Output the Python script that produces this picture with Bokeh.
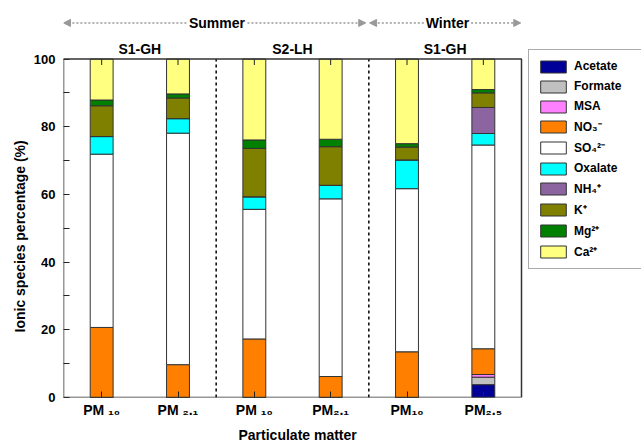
from bokeh.plotting import figure
from bokeh.models import (Range1d, FixedTicker, Arrow, NormalHead, BoxAnnotation,
                          Legend, LegendItem, ColumnDataSource, Title)
from bokeh.core.properties import value
from bokeh.embed import file_html
from bokeh.resources import INLINE

# ---------------- data ----------------
positions = [1, 2, 3, 4, 5, 6]
tick_labels = ["PM \u2081\u2080", "PM \u2082.\u2081", "PM \u2081\u2080",
               "PM\u2082.\u2081", "PM\u2081\u2080", "PM\u2082.\u2085"]
sites = ["S1-GH", "S2-LH", "S1-GH"]
site_pos = [1.5, 3.5, 5.5]
seasons = ["Summer", "Winter"]
season_center = [2.51, 5.53]
season_extent = [(0.5, 4.46), (4.51, 6.49)]
season_divider = [2.5, 4.5]
y_ticks = [0, 20, 40, 60, 80, 100]
y_minor = [10, 30, 50, 70, 90]
x_title = "Particulate matter"
y_title = "Ionic species percentage (%)"

species = ["Acetate", "Formate", "MSA", "NO3", "SO4", "Oxalate", "NH4", "K", "Mg", "Ca"]
legend_labels = ["Acetate", "Formate", "MSA", "NO\u2083\u207b", "SO\u2084\u00b2\u207b",
                 "Oxalate", "NH\u2084\u207a", "K\u207a", "Mg\u00b2\u207a", "Ca\u00b2\u207a"]
acetate = [0, 0, 0, 0, 0, 3.8]
formate = [0, 0, 0, 0, 0, 2.2]
msa = [0, 0, 0, 0, 0, 0.8]
no3 = [20.7, 9.7, 17.3, 6.2, 13.5, 7.6]
so4 = [51.2, 68.4, 38.3, 52.5, 48.2, 60.2]
oxalate = [5.2, 4.3, 3.7, 4.0, 8.5, 3.4]
nh4 = [0, 0, 0, 0, 0, 7.7]
k = [9.1, 6.1, 14.3, 11.4, 3.8, 4.3]
mg = [1.7, 1.2, 2.5, 2.2, 1.0, 1.0]
ca = [12.1, 10.3, 23.9, 23.7, 25.0, 9.0]

colors = ["#000099", "#C0C0C0", "#FF80FF", "#FF8000", "#FFFFFF",
          "#00FFFF", "#8C64A0", "#808000", "#008000", "#FFFF80"]

FONT = "Liberation Sans"
W, H = 641, 446
LEFT, BOTTOM = 63, 46
PLOT_TOP_PX = 59          # pixel row of the 100 % line
PLOT_RIGHT_PX = 521       # pixel column of the right edge of the chart box

# The frame also covers the header and the legend area; the ranges are extended so
# that the chart box (0.5..6.5 x 0..100) sits where it should.
frame_h = H - BOTTOM
ppu_y = (frame_h - PLOT_TOP_PX) / 100.0
ppu_x = (PLOT_RIGHT_PX - LEFT) / 6.0
y_end = frame_h / ppu_y
x_end = 0.5 + (W - LEFT) / ppu_x

src = ColumnDataSource(dict(x=positions, Acetate=acetate, Formate=formate, MSA=msa,
                            NO3=no3, SO4=so4, Oxalate=oxalate, NH4=nh4, K=k, Mg=mg, Ca=ca))

p = figure(width=W, height=H, output_backend="svg", toolbar_location=None,
           x_range=Range1d(0.5, x_end), y_range=Range1d(0, y_end),
           min_border_left=LEFT, min_border_right=0, min_border_top=0, min_border_bottom=BOTTOM)
p.xgrid.visible = False
p.ygrid.visible = False
p.outline_line_color = None

renderers = p.vbar_stack(species, x="x", width=0.3, source=src, color=colors,
                         line_color="#333333", line_width=1)

# chart box
p.add_layout(BoxAnnotation(left=0.5, right=6.5, bottom=0, top=100, fill_alpha=0,
                           line_color="#333333", line_alpha=1, line_width=1.5))

# season dividers (within the chart box only)
p.segment(x0=season_divider, y0=[0] * len(season_divider), x1=season_divider,
          y1=[100] * len(season_divider), line_color="black", line_dash="3 3", line_width=1.5)

# mirror ticks on the top edge of the chart box
tick_len = 6 / ppu_y
p.segment(x0=positions, y0=[100] * len(positions), x1=positions,
          y1=[100 - tick_len] * len(positions), line_color="#222222", line_width=1)

# header: site and season labels
site_y = (frame_h - 48.5) / ppu_y
season_y = (frame_h - 22.6) / ppu_y
p.text(x=site_pos, y=[site_y] * len(site_pos), text=sites, text_align="center",
       text_baseline="middle", text_font=value(FONT), text_font_style="bold",
       text_font_size="14px", text_color="black")
p.text(x=season_center, y=[season_y] * len(seasons), text=seasons, text_align="center",
       text_baseline="middle", text_font=value(FONT), text_font_style="bold",
       text_font_size="14px", text_color="black")
season_gap = [0.40, 0.31]
for c, (a, b), g in zip(season_center, season_extent, season_gap):
    for xs, xe in [(c - g, a), (c + g, b)]:
        p.add_layout(Arrow(x_start=xs, y_start=season_y, x_end=xe, y_end=season_y,
                           line_color="#999999", line_dash="2 2", line_width=1.5,
                           end=NormalHead(size=7, fill_color="#999999", line_color="#999999")))

# x axis
xax = p.xaxis[0]
xax.ticker = FixedTicker(ticks=positions)
xax.major_label_overrides = {pos: lab for pos, lab in zip(positions, tick_labels)}
xax.major_label_text_font = FONT
xax.major_label_text_font_style = "bold"
xax.major_label_text_font_size = "14px"
xax.major_label_text_color = "black"
xax.major_label_standoff = 4
xax.major_tick_in = 6
xax.major_tick_out = 0
xax.major_tick_line_color = "#222222"
xax.minor_tick_line_color = None
xax.axis_line_color = None

# y axis
yax = p.yaxis[0]
yax.ticker = FixedTicker(ticks=y_ticks, minor_ticks=y_minor)
yax.major_label_text_font = FONT
yax.major_label_text_font_style = "bold"
yax.major_label_text_font_size = "13px"
yax.major_label_text_color = "black"
yax.major_label_standoff = 8
yax.major_tick_in = 6
yax.major_tick_out = 0
yax.minor_tick_in = 6
yax.minor_tick_out = 0
yax.major_tick_line_color = "#222222"
yax.minor_tick_line_color = "#222222"
yax.axis_line_color = None

# axis titles, placed under / beside the chart box rather than the extended frame
p.add_layout(Title(text=x_title, align="left", offset=238 - LEFT,
                   standoff=8, text_font=FONT, text_font_style="bold",
                   text_font_size="14px", text_color="black"), "below")
p.add_layout(Title(text=y_title, align="left", offset=frame_h - 335,
                   standoff=6, text_font=FONT, text_font_style="bold",
                   text_font_size="14px", text_color="black"), "left")

# legend (inside the extended frame, right of the chart box)
legend = Legend(items=[LegendItem(label=lab, renderers=[r]) for lab, r in zip(legend_labels, renderers)],
                location=(528 - LEFT, frame_h - 272), orientation="vertical")
legend.label_text_font = FONT
legend.label_text_font_style = "bold"
legend.label_text_font_size = "12px"
legend.label_text_color = "black"
legend.glyph_width = 32
legend.glyph_height = 15
legend.label_height = 16
legend.label_width = 59
legend.label_standoff = 5
legend.spacing = 4
legend.padding = 8
legend.margin = 0
legend.border_line_color = "#555555"
legend.border_line_width = 1
legend.background_fill_color = "white"
legend.background_fill_alpha = 1
p.add_layout(legend)

open("out.html", "w").write(file_html(p, INLINE))
